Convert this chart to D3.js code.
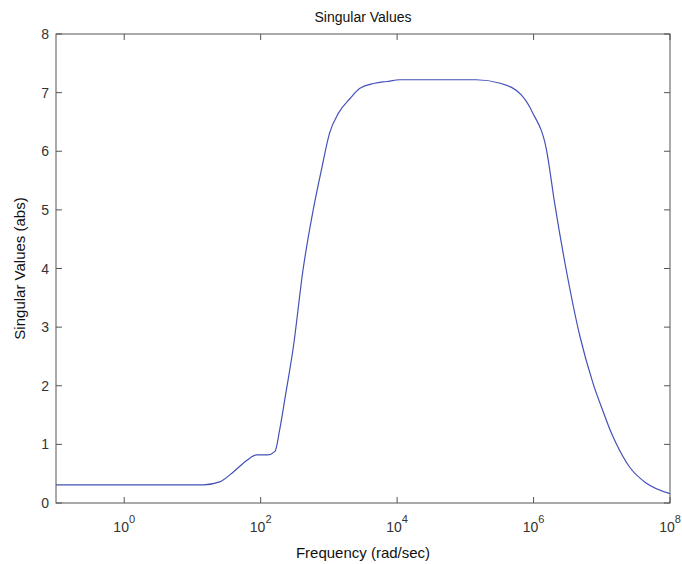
<!DOCTYPE html>
<html>
<head>
<meta charset="utf-8">
<script src="https://cdn.jsdelivr.net/npm/d3@7"></script>
<style>
  body { margin: 0; background: #fff; }
  svg { font-family: "Liberation Sans", Arial, sans-serif; }
</style>
</head>
<body>
<svg width="682" height="564"></svg>
<script>
// frequency (rad/sec) and singular value
var freq = [0.1, 14.5, 25.1, 39.8, 61.7, 87, 126, 162, 190, 229, 302, 417, 589, 776,
            1023, 1380, 2042, 2818, 4677, 7080, 10965, 144500, 323600, 661000, 977000,
            1.55e6, 2.04e6, 3.02e6, 4.79e6, 7.41e6, 1.07e7, 1.32e7, 1.62e7, 2.57e7, 4.47e7, 1e8];
var sv = [0.31, 0.31, 0.36, 0.53, 0.72, 0.82, 0.82, 0.88, 1.25, 1.81, 2.67, 3.97, 5.0, 5.68,
          6.31, 6.65, 6.9, 7.07, 7.16, 7.19, 7.22, 7.22, 7.16, 6.96, 6.65,
          6.02, 5.11, 3.97, 2.84, 2.05, 1.53, 1.25, 1.02, 0.61, 0.34, 0.16];
var xTicks = [1, 100, 1e4, 1e6, 1e8];
var xExp = ["0", "2", "4", "6", "8"];
var yTicks = [0, 1, 2, 3, 4, 5, 6, 7, 8];

var svg = d3.select("svg");
var margin = {top: 34, right: 12, bottom: 61, left: 56};
var width = 682 - margin.left - margin.right;
var height = 564 - margin.top - margin.bottom;
var g = svg.append("g").attr("transform", "translate(" + margin.left + "," + margin.top + ")");

var x = d3.scaleLog().domain([0.1, 1e8]).range([0, width]);
var y = d3.scaleLinear().domain([0, 8]).range([height, 0]);

var axisCol = "#555";
var textCol = "#333";

// data line
var line = d3.line()
    .x(function(d, i) { return x(freq[i]); })
    .y(function(d) { return y(d); })
    .curve(d3.curveMonotoneX);
g.append("path")
    .datum(sv)
    .attr("d", line)
    .attr("fill", "none")
    .attr("stroke", "#4352b8")
    .attr("stroke-width", 1.2);

// box
g.append("rect")
    .attr("width", width).attr("height", height)
    .attr("fill", "none").attr("stroke", axisCol).attr("stroke-width", 1);

// ticks inward on all sides
var tl = 6;
xTicks.forEach(function(t) {
    var px = x(t);
    g.append("line").attr("x1", px).attr("x2", px).attr("y1", height).attr("y2", height - tl).attr("stroke", axisCol);
    g.append("line").attr("x1", px).attr("x2", px).attr("y1", 0).attr("y2", tl).attr("stroke", axisCol);
});
yTicks.forEach(function(t) {
    var py = y(t);
    g.append("line").attr("x1", 0).attr("x2", tl).attr("y1", py).attr("y2", py).attr("stroke", axisCol);
    g.append("line").attr("x1", width).attr("x2", width - tl).attr("y1", py).attr("y2", py).attr("stroke", axisCol);
});

// x tick labels: 10 with exponent
var xl = g.selectAll(".xl").data(xTicks).enter().append("text")
    .attr("class", "xl")
    .attr("x", function(d) { return x(d); })
    .attr("y", height + 29)
    .attr("text-anchor", "middle")
    .attr("font-size", 14)
    .attr("fill", textCol);
xl.append("tspan").text("10");
xl.append("tspan")
    .attr("dy", -9)
    .attr("font-size", 11)
    .text(function(d, i) { return xExp[i]; });

// y tick labels
g.selectAll(".yl").data(yTicks).enter().append("text")
    .attr("class", "yl")
    .attr("x", -7)
    .attr("y", function(d) { return y(d); })
    .attr("dy", "0.36em")
    .attr("text-anchor", "end")
    .attr("font-size", 14)
    .attr("fill", textCol)
    .text(function(d) { return d; });

// titles
svg.append("text")
    .attr("x", margin.left + width / 2)
    .attr("y", 22)
    .attr("text-anchor", "middle")
    .attr("font-size", 14)
    .attr("fill", "#111")
    .text("Singular Values");
svg.append("text")
    .attr("x", margin.left + width / 2)
    .attr("y", 558)
    .attr("text-anchor", "middle")
    .attr("font-size", 15)
    .attr("fill", "#111")
    .text("Frequency (rad/sec)");
svg.append("text")
    .attr("transform", "translate(25," + (margin.top + height / 2) + ") rotate(-90)")
    .attr("text-anchor", "middle")
    .attr("font-size", 15)
    .attr("fill", "#111")
    .text("Singular Values (abs)");
</script>
</body>
</html>
